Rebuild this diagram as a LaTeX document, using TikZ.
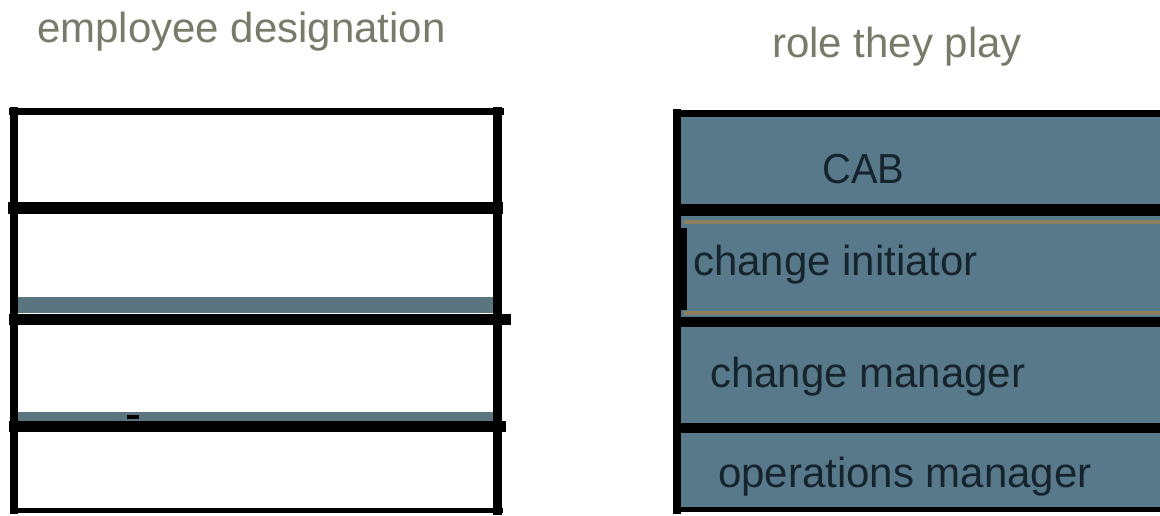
\documentclass[tikz,border=0pt]{standalone}
\usepackage{fontspec}
\setmainfont{Liberation Sans}
\definecolor{heading}{RGB}{122,122,106}
\definecolor{rowfill}{RGB}{88,121,137}
\definecolor{band}{RGB}{90,117,128}
\definecolor{tan}{RGB}{140,128,96}
\definecolor{ink}{RGB}{22,36,46}
\tikzset{
  x=1pt, y=-1pt,
  heads/.style={anchor=base west, inner sep=0pt, text=heading, font=\fontsize{42}{46}\selectfont},
  cell/.style={anchor=base west, inner sep=0pt, text=ink, font=\fontsize{42}{46}\selectfont},
  rule/.style={draw=black, line cap=rect},
}
\begin{document}
\begin{tikzpicture}
\useasboundingbox (0,0) rectangle (1160,515);
\fill[white] (0,0) rectangle (1160,515);

% headings
\node[heads] (h1) at (37,42) {employee designation};
\node[heads] (h2) at (772,57) {role they play};

% ---------- left table ----------
\fill[band] (16,297) rectangle (493,313);
\fill[band] (16,412) rectangle (493,421);
\draw[rule, line width=7pt] (12,111) -- (500,111);
\draw[rule, line width=8pt] (14,111) -- (14,510);
\draw[rule, line width=9pt] (497,111) -- (497,510);
\draw[rule, line width=12pt] (14,208) -- (497,208);
\draw[rule, line width=11pt] (14,319) -- (505,319);
\draw[rule, line width=11pt] (14,426) -- (500,426);
\draw[rule, line width=5pt] (14,510) -- (500,510);
\fill[black] (127,415) rectangle (139,419);

% ---------- right table ----------
\fill[rowfill] (676,112) rectangle (1160,510);
\draw[line width=4pt, tan] (684,222) -- (1160,222);
\draw[line width=4pt, tan] (684,313) -- (1160,313);
\draw[rule, line width=7pt] (676,113) -- (1160,113);
\draw[rule, line width=8pt] (677,113) -- (677,510);
\draw[line width=6pt] (684,228) -- (684,310);
\draw[line width=12pt] (677,210) -- (1160,210);
\draw[line width=10pt] (677,322) -- (1160,322);
\draw[line width=10pt] (677,428) -- (1160,428);
\draw[line width=5pt] (677,509) -- (1160,509);

\node[cell] (cab) at (822,183) {\scalebox{0.95}[1]{CAB}};
\node[cell] (ci) at (693,275) {change initiator};
\node[cell] (cm) at (710,387) {change manager};
\node[cell] (om) at (718,487) {operations manager};
\end{tikzpicture}
\end{document}
